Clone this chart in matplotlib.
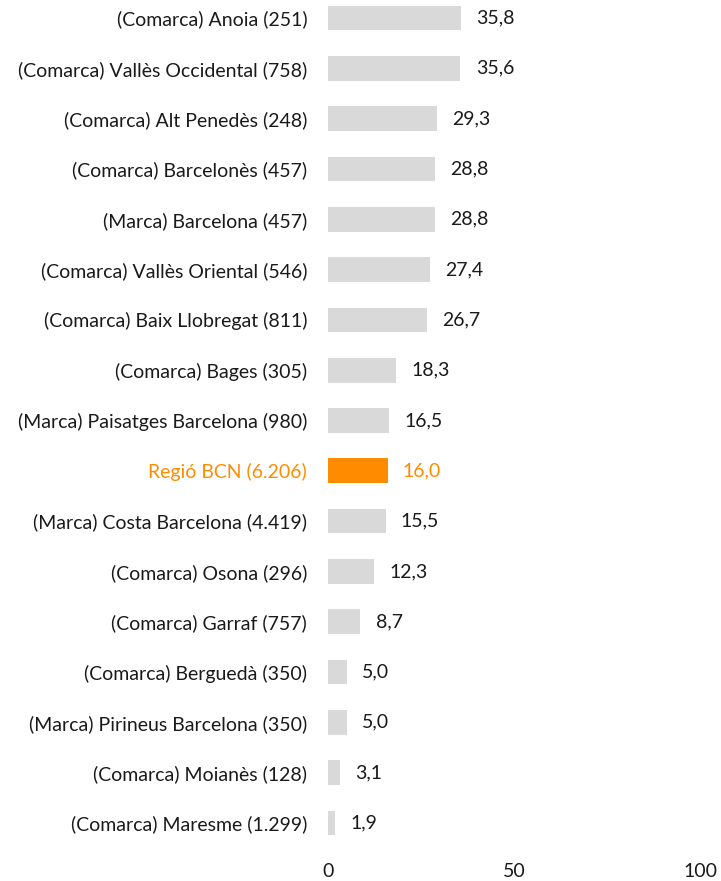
import matplotlib
matplotlib.use("Agg")
import matplotlib.pyplot as plt

categories = [
    "(Comarca) Anoia (251)",
    "(Comarca) Vallès Occidental (758)",
    "(Comarca) Alt Penedès (248)",
    "(Comarca) Barcelonès (457)",
    "(Marca) Barcelona (457)",
    "(Comarca) Vallès Oriental (546)",
    "(Comarca) Baix Llobregat (811)",
    "(Comarca) Bages (305)",
    "(Marca) Paisatges Barcelona (980)",
    "Regió BCN (6.206)",
    "(Marca) Costa Barcelona (4.419)",
    "(Comarca) Osona (296)",
    "(Comarca) Garraf (757)",
    "(Comarca) Berguedà (350)",
    "(Marca) Pirineus Barcelona (350)",
    "(Comarca) Moianès (128)",
    "(Comarca) Maresme (1.299)",
]
values = [35.8, 35.6, 29.3, 28.8, 28.8, 27.4, 26.7, 18.3, 16.5, 16.0, 15.5, 12.3, 8.7, 5.0, 5.0, 3.1, 1.9]
highlight = "Regió BCN (6.206)"
xticks = [0, 50, 100]

plt.rcParams['font.family'] = ['Lato', 'DejaVu Sans']
GRAY = "#D9D9D9"
ORANGE = "#FF8C00"
TEXT = "#1a1a1a"
FS = 14

fig = plt.figure(figsize=(7.21, 8.81), dpi=100)
ax = fig.add_axes([328/721, 1 - 845/881, (700-328)/721, 845/881])

pos = list(range(len(categories)))
colors = [ORANGE if c == highlight else GRAY for c in categories]
ax.barh(pos, values, height=0.49, color=colors)
for p, v, c in zip(pos, values, categories):
    col = ORANGE if c == highlight else TEXT
    ax.annotate(f"{v:.1f}".replace(".", ","), xy=(v, p), xytext=(11, 0),
                textcoords="offset points", va="center", ha="left",
                fontsize=FS, color=col)

ax.set_xlim(0, 100)
ax.set_ylim(16 + 22/50.3, -18/50.3)
ax.set_yticks(pos)
ax.set_yticklabels(categories, fontsize=FS)
for lbl, c in zip(ax.get_yticklabels(), categories):
    lbl.set_color(ORANGE if c == highlight else TEXT)
ax.set_xticks(xticks)
ax.set_xticklabels([str(t) for t in xticks], fontsize=FS, color=TEXT)
ax.tick_params(axis='y', length=0, pad=15)
ax.tick_params(axis='x', length=0, pad=13)
for s in ax.spines.values():
    s.set_visible(False)

fig.savefig("out.png", dpi=100)
